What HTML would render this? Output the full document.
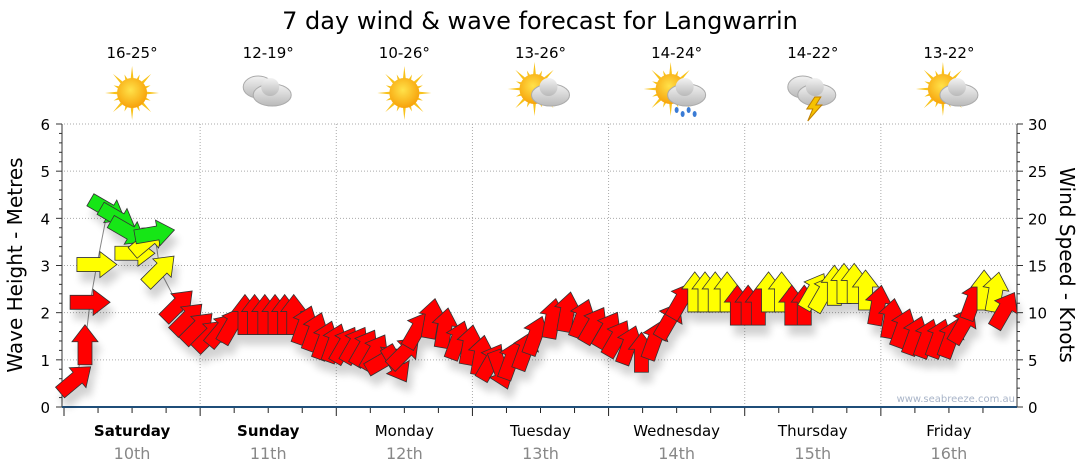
<!DOCTYPE html>
<html><head><meta charset="utf-8"><style>
body{margin:0;background:#fff;}
svg{display:block;font-family:"DejaVu Sans","Liberation Sans",sans-serif;}
</style></head><body>
<svg id="c" width="1080" height="475" viewBox="0 0 1080 475" xmlns="http://www.w3.org/2000/svg">
<defs>
<filter id="sh" x="-50%" y="-50%" width="200%" height="200%"><feGaussianBlur in="SourceAlpha" stdDeviation="4"/><feOffset dx="4" dy="10"/><feComponentTransfer><feFuncA type="linear" slope="0.18"/></feComponentTransfer><feMerge><feMergeNode/><feMergeNode in="SourceGraphic"/></feMerge></filter>
<radialGradient id="sun" cx="45%" cy="40%" r="60%"><stop offset="0" stop-color="#ffe24a"/><stop offset="1" stop-color="#f7a20a"/></radialGradient>
<linearGradient id="cl" x1="0" y1="0" x2="0" y2="1"><stop offset="0" stop-color="#f2f2f2"/><stop offset="1" stop-color="#b9b9b9"/></linearGradient>
</defs>
<text x="540" y="29" text-anchor="middle" font-size="24" fill="#000">7 day wind &amp; wave forecast for Langwarrin</text>
<g id="grid"></g><g id="axes"></g><g id="top"></g>
<g id="line"></g><g id="arrows" filter="url(#sh)"></g>
<text x="1015" y="402" text-anchor="end" font-size="10" fill="#a8b4c8">www.seabreeze.com.au</text>
<text transform="translate(22,265) rotate(-90)" text-anchor="middle" font-size="20" fill="#000">Wave Height - Metres</text>
<text transform="translate(1060,265) rotate(90)" text-anchor="middle" font-size="20" fill="#000">Wind Speed - Knots</text>
</svg>
<script>
const days=["Saturday","Sunday","Monday","Tuesday","Wednesday","Thursday","Friday"];
const dates=["10th","11th","12th","13th","14th","15th","16th"];
const temps=["16-25°","12-19°","10-26°","13-26°","14-24°","14-22°","13-22°"];
const icons=["sun","cloud","sun","suncloud","rain","storm","suncloud"];
const leftTicks=[0,1,2,3,4,5,6];
const rightTicks=[0,5,10,15,20,25,30];
// hours from start of Saturday
const hours=[2,3.7,4.6,5.8,7.7,9.5,11.3,12.5,14.8,16,16.9,20.1,21.8,23.6,25.7,27.8,29.6,31.9,33.6,35.4,37.2,38.9,40.5,42.4,44.2,46,47.7,49.5,51.3,53,54.8,56.5,58.6,60,62.3,64.8,67.1,69.4,71.5,73.5,75.3,77,78.8,81.3,83.1,86.1,88.7,91.3,93.4,95.8,97.5,99.6,101.8,104.1,106.7,108.8,111.2,113,114.8,116.9,118.7,120.6,122.4,124.2,126.5,128.3,130.5,132.2,134,135.8,137.5,139.3,141.3,143.5,145.8,147.9,150,152.1,154.2,156.3,158.5,160.3,162.2,164.2,165.8];
const knots=[2.9,6.6,11.1,15.1,20.9,20,18.6,16.3,17.7,18.4,14.5,10.8,9.4,8.4,7.6,8.2,8.7,9.8,9.8,9.8,9.8,9.8,9.8,8.7,8,7.1,6.8,6.6,6.6,6.3,5.8,5,4.5,5.8,8.2,9.4,8.4,7.1,6.6,5.5,4.8,3.9,5,6,7.6,9.4,10.1,9.4,8.7,8.2,7.3,6.6,5.8,7.1,9.2,11.3,12.2,12.2,12.2,12.2,10.8,10.8,10.8,12.2,12.2,10.8,10.8,12.3,12.1,12.9,13.1,13.1,12.4,10.8,9.4,8.4,7.6,7.3,7.3,7.3,8.7,11.3,12.4,12.2,10.3,8.7];
const dirs=[-40,-90,0,0,30,30,30,0,-40,-10,-45,-45,-45,-45,-45,-50,-60,-90,-90,-90,-90,-90,-90,-70,-70,-70,-70,-60,-60,-60,-60,-30,60,-45,-60,-80,-80,-70,-80,-80,-60,70,-70,-70,-70,-80,-80,-70,-60,-60,-60,-70,-90,-70,-60,-60,-90,-90,-90,-90,-90,-90,-90,-90,-90,-90,-90,-60,-60,-90,-90,-90,-90,-80,-80,-70,-70,-70,-70,-70,-60,-70,-90,-80,-60,-60];
const NS="http://www.w3.org/2000/svg";
const X0=64,X1=1017,Y0=407,Y1=124,DAYW=(X1-X0)/7;
function xH(h){return X0+h*DAYW/24;}
function yM(m){return Y0-(m/6)*(Y0-Y1);}
function yK(k){return Y0-(k/30)*(Y0-Y1);}
function mk(tag,attrs,parent){const e=document.createElementNS(NS,tag);for(const k in attrs)e.setAttribute(k,attrs[k]);parent.appendChild(e);return e;}
const grid=document.getElementById('grid'),axes=document.getElementById('axes'),top_=document.getElementById('top');
leftTicks.forEach(v=>{if(v>0){const l=mk('line',{x1:X0,x2:X1,y1:yM(v),y2:yM(v),stroke:'#aaa','stroke-dasharray':'1,2'},grid);

}
const t=mk('text',{x:50,y:yM(v)+6,'text-anchor':'end','font-size':15,fill:'#000'},axes);t.textContent=v;

});
rightTicks.forEach(v=>{const t=mk('text',{x:1028,y:yK(v)+6,'font-size':15,fill:'#000'},axes);t.textContent=v;

});
for(let i=0;i<=30;i++){const y=Y0-i*(Y0-Y1)/30;const w=i%5==0?6:3;
mk('line',{x1:X0-2-w,x2:X0-2,y1:y,y2:y,stroke:'#333'},axes);mk('line',{x1:X1,x2:X1+w,y1:y,y2:y,stroke:'#333'},axes);}
mk('line',{x1:X0-2,x2:X0-2,y1:Y1,y2:Y0,stroke:'#333'},axes);
mk('line',{x1:X1,x2:X1,y1:Y1,y2:Y0,stroke:'#333'},axes);
for(let d=0;d<7;d++){
 if(d>0){const l=mk('line',{x1:X0+d*DAYW,x2:X0+d*DAYW,y1:Y1,y2:Y0,stroke:'#aaa','stroke-dasharray':'1,2'},grid);
 
 }
 for(let q=0;q<4;q++){const x=X0+d*DAYW+q*DAYW/4;mk('line',{x1:x,x2:x,y1:Y0,y2:Y0+(q==0?9:6),stroke:'#222'},axes);}
 const cx=X0+(d+0.5)*DAYW;
 const dl=mk('text',{x:cx,y:436,'text-anchor':'middle','font-size':15,'font-weight':d<2?'bold':'normal',fill:'#000'},axes);dl.textContent=days[d];
 
 
 const dt=mk('text',{x:cx,y:459,'text-anchor':'middle','font-size':16,fill:'#888'},axes);dt.textContent=dates[d];
 
 
 const tt=mk('text',{x:cx,y:58,'text-anchor':'middle','font-size':15,fill:'#000'},top_);tt.textContent=temps[d];
 
 
 const g=mk('g',{transform:`translate(${cx},93)`},top_);
 
 
 const ic=icons[d];
 if(ic!='cloud'&&ic!='storm'){const sx=ic=='sun'?0:-6,sy=ic=='sun'?0:-4;
  for(let r=0;r<16;r++){const a=r*Math.PI/8,L=r%2?20:27;mk('polygon',{points:`${sx+Math.cos(a-0.12)*13},${sy+Math.sin(a-0.12)*13} ${sx+Math.cos(a)*L},${sy+Math.sin(a)*L} ${sx+Math.cos(a+0.12)*13},${sy+Math.sin(a+0.12)*13}`,fill:'#f8c21a'},g);}
  mk('circle',{cx:sx,cy:sy,r:15,fill:'url(#sun)'},g);}
 if(ic!='sun'){const ox=ic=='cloud'||ic=='storm'?0:6;
  if(ic=='cloud'||ic=='storm'){mk('ellipse',{cx:ox-10,cy:-6,rx:15,ry:11,fill:'url(#cl)',stroke:'#aaa'},g);}
  mk('ellipse',{cx:ox+4,cy:2,rx:19,ry:11,fill:'url(#cl)',stroke:'#aaa'},g);
  mk('circle',{cx:ox+2,cy:-6,r:9,fill:'url(#cl)'},g);
  if(ic=='rain'){for(let r=0;r<4;r++)mk('ellipse',{cx:ox-6+r*6,cy:17+(r%2)*4,rx:2,ry:3,fill:'#3a7bd5'},g);}
  if(ic=='storm'){mk('polygon',{points:`${ox+2},4 ${ox-6},16 ${ox},16 ${ox-5},28 ${ox+9},12 ${ox+3},12 ${ox+8},4`,fill:'#f6c200',stroke:'#c08000'},g);}}
}
mk('line',{x1:X0-2,x2:X1,y1:Y0,y2:Y0,stroke:'#1f4e79','stroke-width':2},axes);
const line=document.getElementById('line');
const pts=hours.map((h,i)=>xH(h)+','+yK(knots[i])).join(' ');
const pl=mk('polyline',{points:pts,fill:'none',stroke:'#888','stroke-width':1},line);


const ag=document.getElementById('arrows');
hours.forEach((h,i)=>{
 const k=knots[i];const col=k>=18?'#19e619':(k>=12?'#ffff00':'#ff0000');
 const p=mk('polygon',{points:'-20,-7 3,-7 3,-13 20,0 3,13 3,7 -20,7',fill:col,stroke:'#333','stroke-width':0.8,
  transform:`translate(${xH(h)},${yK(k)}) rotate(${dirs[i]})`},ag);
 
 
});
</script>
</body></html>
